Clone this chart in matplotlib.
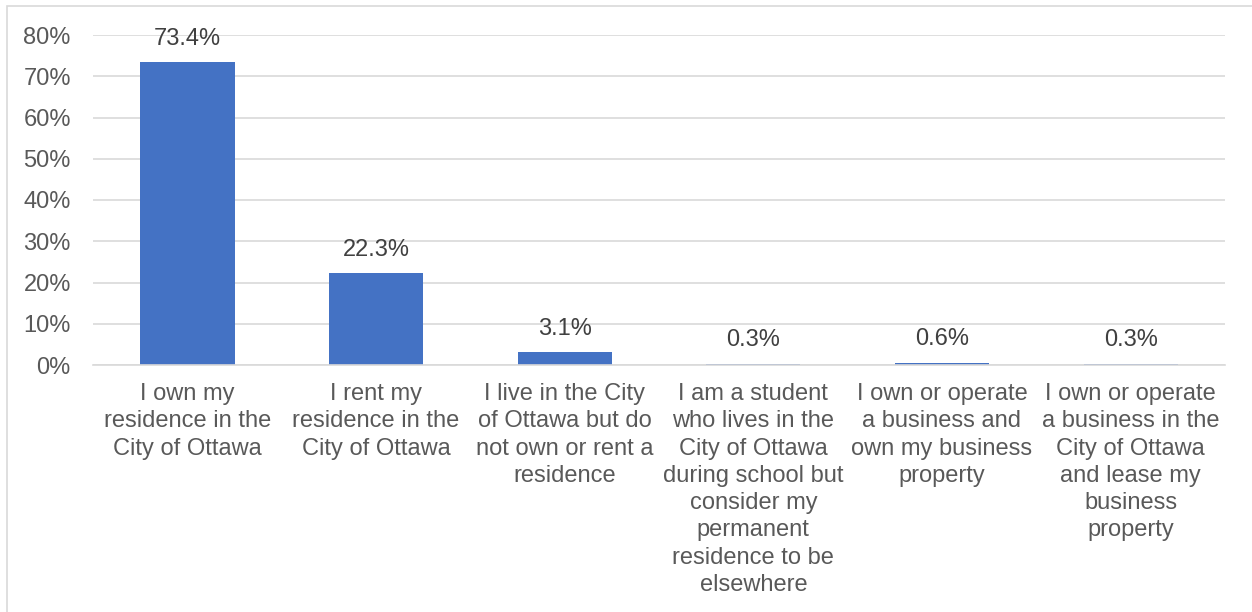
import matplotlib
matplotlib.use("Agg")
import matplotlib.pyplot as plt
from matplotlib.patches import Rectangle
from matplotlib.ticker import PercentFormatter

categories = [
    "I own my\nresidence in the\nCity of Ottawa",
    "I rent my\nresidence in the\nCity of Ottawa",
    "I live in the City\nof Ottawa but do\nnot own or rent a\nresidence",
    "I am a student\nwho lives in the\nCity of Ottawa\nduring school but\nconsider my\npermanent\nresidence to be\nelsewhere",
    "I own or operate\na business and\nown my business\nproperty",
    "I own or operate\na business in the\nCity of Ottawa\nand lease my\nbusiness\nproperty",
]
shares = [73.4, 22.3, 3.1, 0.3, 0.6, 0.3]
y_ticks = [0, 10, 20, 30, 40, 50, 60, 70, 80]

BAR_COLOR = "#4472C4"
GRID_COLOR = "#D9D9D9"
TEXT_COLOR = "#595959"

plt.rcParams["font.family"] = ["Liberation Sans", "DejaVu Sans"]

fig = plt.figure(figsize=(12.52, 6.12), dpi=100)
ax = fig.add_axes([93 / 1252, 1 - 365 / 612, (1225 - 93) / 1252, (365 - 35) / 612])

x = range(len(categories))
bars = ax.bar(x, shares, width=0.5, color=BAR_COLOR, zorder=3)

for rect, v in zip(bars, shares):
    ax.annotate(f"{v:.1f}%", (rect.get_x() + rect.get_width() / 2, v),
                xytext=(0, 9), textcoords="offset points",
                ha="center", va="bottom", fontsize=17, color="#404040")

ax.set_xlim(-0.5, len(categories) - 0.5)
ax.set_ylim(0, 80)
ax.set_yticks(y_ticks)
ax.yaxis.set_major_formatter(PercentFormatter(decimals=0))
ax.set_xticks(list(x))
ax.set_xticklabels(categories, fontsize=17, color=TEXT_COLOR, linespacing=1.31)
ax.tick_params(axis="y", labelsize=17, labelcolor=TEXT_COLOR, length=0, pad=16)
ax.tick_params(axis="x", length=0, pad=13)

ax.grid(axis="y", color=GRID_COLOR, linewidth=1.2, zorder=0)
for side in ["top", "right", "left"]:
    ax.spines[side].set_visible(False)
ax.spines["bottom"].set_color(GRID_COLOR)
ax.spines["bottom"].set_linewidth(1.2)
ax.spines["bottom"].set_zorder(4)

# chart frame, open to the right and bottom
fig.patches.append(Rectangle((7 / 1252, -0.1), 1.2, 1 - 6 / 612 + 0.1,
                             transform=fig.transFigure, fill=False,
                             edgecolor=GRID_COLOR, linewidth=1.2))

fig.savefig("out.png", dpi=100)
